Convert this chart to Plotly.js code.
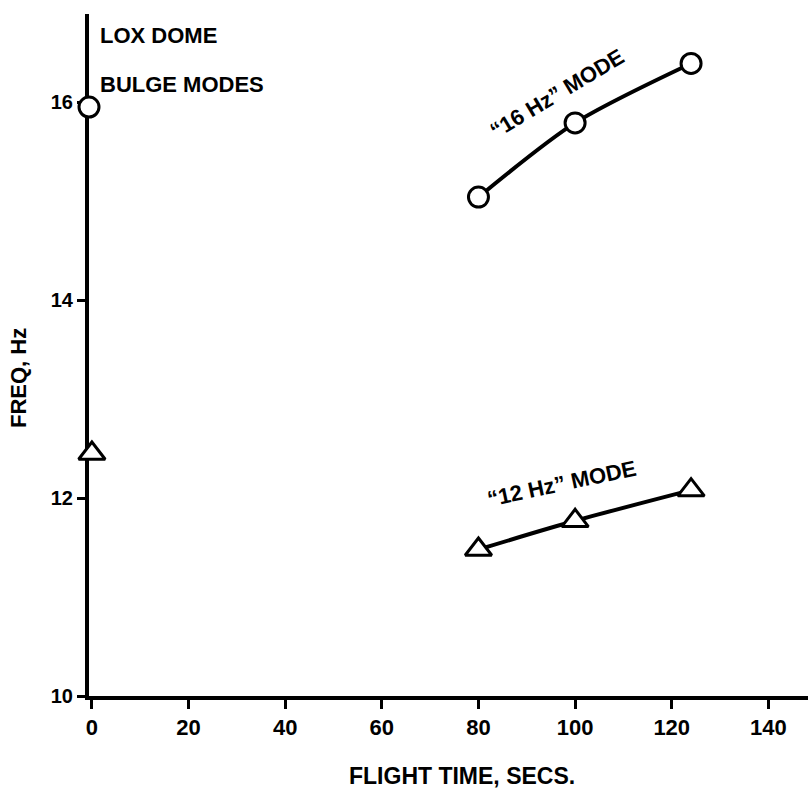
<!DOCTYPE html>
<html>
<head>
<meta charset="utf-8">
<script src="https://cdn.plot.ly/plotly-3.0.1.min.js"></script>
<style>html,body{margin:0;padding:0;background:#fff;}#chart{width:810px;height:796px;}</style>
</head>
<body>
<div id="chart"></div>
<script>
// Data
var modeTime = [80, 100, 124];
var freq16 = [15.04, 15.79, 16.39];
var freq12 = [11.48, 11.77, 12.08];
var bulgeTime = [-0.6, 0];
var bulgeFreq = [15.95, 12.45];
var bulgeSymbols = ['circle', 'triangle-up'];
var xTicks = [0, 20, 40, 60, 80, 100, 120, 140];
var yTicks = [10, 12, 14, 16];

var FONT = 'Liberation Sans, Arial, sans-serif';

var traces = [
  {
    x: modeTime, y: freq16, mode: 'lines+markers', type: 'scatter',
    line: {color: '#000', width: 4, shape: 'spline', smoothing: 0.8},
    marker: {symbol: 'circle', size: 20, color: '#fff', opacity: 1, line: {color: '#000', width: 3}},
    cliponaxis: false, showlegend: false
  },
  {
    x: modeTime, y: freq12, mode: 'lines+markers', type: 'scatter',
    line: {color: '#000', width: 4, shape: 'spline', smoothing: 0.8},
    marker: {symbol: 'triangle-up', size: 23, color: '#fff', opacity: 1, line: {color: '#000', width: 3}},
    cliponaxis: false, showlegend: false
  },
  {
    x: bulgeTime, y: bulgeFreq, mode: 'markers', type: 'scatter',
    marker: {symbol: bulgeSymbols, size: [20, 23], color: '#fff', opacity: 1, line: {color: '#000', width: 3}},
    cliponaxis: false, showlegend: false
  }
];

var layout = {
  width: 810, height: 796,
  margin: {l: 89, r: 2, t: 14, b: 100},
  paper_bgcolor: '#fff', plot_bgcolor: '#fff',
  font: {family: FONT, color: '#000'},
  xaxis: {
    range: [-0.6, 148.2], showgrid: false, zeroline: false,
    showline: true, linewidth: 4, linecolor: '#000', layer: 'below traces',
    ticks: 'outside', ticklen: 9, tickwidth: 3, tickcolor: '#000',
    tickvals: xTicks, ticktext: xTicks.map(String),
    tickfont: {family: FONT, size: 22, weight: 'bold', color: '#000'}
  },
  yaxis: {
    range: [10, 16.89], showgrid: false, zeroline: false,
    showline: true, linewidth: 4, linecolor: '#000', layer: 'below traces',
    ticks: 'outside', ticklen: 8, tickwidth: 3, tickcolor: '#000',
    tickvals: yTicks, ticktext: yTicks.map(String),
    tickfont: {family: FONT, size: 20, weight: 'bold', color: '#000'}
  },
  annotations: [
    {text: 'LOX DOME', xref: 'paper', yref: 'paper', x: 0.012, y: 0.969, xanchor: 'left', yanchor: 'middle', showarrow: false,
     font: {family: FONT, size: 22, weight: 'bold', color: '#000'}},
    {text: 'BULGE MODES', xref: 'paper', yref: 'paper', x: 0.012, y: 0.896, xanchor: 'left', yanchor: 'middle', showarrow: false,
     font: {family: FONT, size: 22, weight: 'bold', color: '#000'}},
    {text: '\u201C16 Hz\u201D MODE', xref: 'paper', yref: 'paper', x: 0.651, y: 0.884, xanchor: 'center', yanchor: 'middle', showarrow: false, textangle: -31,
     font: {family: FONT, size: 22, weight: 'bold', color: '#000'}},
    {text: '\u201C12 Hz\u201D MODE', xref: 'paper', yref: 'paper', x: 0.658, y: 0.311, xanchor: 'center', yanchor: 'middle', showarrow: false, textangle: -12,
     font: {family: FONT, size: 22, weight: 'bold', color: '#000'}},
    {text: 'FREQ, Hz', xref: 'paper', yref: 'paper', x: -0.099, y: 0.466, xanchor: 'center', yanchor: 'middle', showarrow: false, textangle: -90,
     font: {family: FONT, size: 22, weight: 'bold', color: '#000'}},
    {text: 'FLIGHT TIME, SECS.', xref: 'paper', yref: 'paper', x: 0.519, y: -0.117, xanchor: 'center', yanchor: 'middle', showarrow: false,
     font: {family: FONT, size: 23, weight: 'bold', color: '#000'}}
  ]
};

Plotly.newPlot('chart', traces, layout, {displayModeBar: false, staticPlot: true});
</script>
</body>
</html>
